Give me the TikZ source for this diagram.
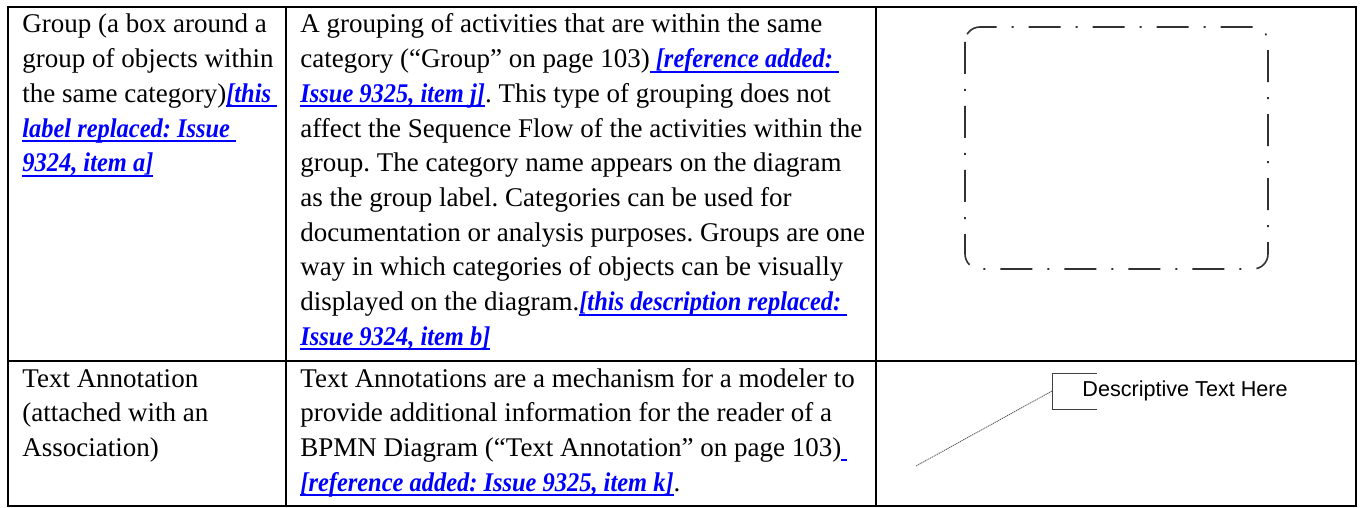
\documentclass[tikz,border=0pt]{standalone}
\usepackage{fontspec}
\setmainfont{Liberation Serif}
\newfontfamily\linkfont[FakeStretch=0.905]{Liberation Serif}
\newfontfamily\annotfont{Liberation Sans}
\usetikzlibrary{positioning}
\definecolor{linkblue}{RGB}{0,0,255}
\definecolor{shapegray}{RGB}{50,50,50}

% blue bold italic underlined change marks
\newcommand{\lnk}[1]{\leavevmode\setbox0\hbox{\linkfont\bfseries\itshape#1}%
  \rlap{\color{linkblue}\rule[-2.5pt]{\wd0}{1pt}}\textcolor{linkblue}{\box0}}

\begin{document}
\begin{tikzpicture}[x=0.5pt, y=-0.5pt,
  cell/.style={anchor=base west, text width=320pt, align=flush left, inner sep=0pt,
    font=\fontsize{13.5}{17.35}\selectfont\frenchspacing},
  tableline/.style={line width=1pt},
  groupbox/.style={draw=shapegray, line width=0.8pt, rounded corners=7.5pt,
    dash pattern=on 16pt off 7.5pt on 1pt off 7.5pt},
  assoc/.style={draw=black!70, line width=0.4pt, dash pattern=on 0.6pt off 0.4pt},
  bracket/.style={draw=black!75, line width=0.5pt}]

\useasboundingbox (0,0) rectangle (1361,508);

% table grid
\draw[tableline] (8,7) rectangle (1356,506);
\draw[tableline] (286,7) -- (286,506);
\draw[tableline] (876,7) -- (876,506);
\draw[tableline] (8,361) -- (1356,361);

% row 1: group
\node[cell] (grpname) at (22,33) {Group (a box around a\\
  group of objects within\\
  the same category)\lnk{[this }\\
  \lnk{label replaced: Issue }\\
  \lnk{9324, item a]}};
\node[cell] (grpdesc) at (300,33) {A grouping of activities that are within the same\\
  category (“Group” on page 103)\lnk{ [reference added: }\\
  \lnk{Issue 9325, item j]}. This type of grouping does not\\
  affect the Sequence Flow of the activities within the\\
  group. The category name appears on the diagram\\
  as the group label. Categories can be used for\\
  documentation or analysis purposes. Groups are one\\
  way in which categories of objects can be visually\\
  displayed on the diagram.\lnk{[this description replaced: }\\
  \lnk{Issue 9324, item b]}};
\draw[groupbox] (965,27) rectangle (1268,269);

% row 2: text annotation
\node[cell] (annname) at (22,387) {Text Annotation\\
  (attached with an\\
  Association)};
\node[cell] (anndesc) at (300,387) {Text Annotations are a mechanism for a modeler to\\
  provide additional information for the reader of a\\
  BPMN Diagram (“Text Annotation” on page 103)\lnk{ }\\
  \lnk{[reference added: Issue 9325, item k]}.};

\node[anchor=west, inner sep=0pt, font=\annotfont\fontsize{10.8}{12}\selectfont] (annot) at (1082,391) {Descriptive Text Here};
\coordinate (brk) at (1052,391);
\coordinate (tail) at (916,466);
\draw[bracket] (1097,373) -- (1052,373) -- (1052,409) -- (1097,409);
\draw[assoc] (tail) -- (brk);
\end{tikzpicture}
\end{document}
